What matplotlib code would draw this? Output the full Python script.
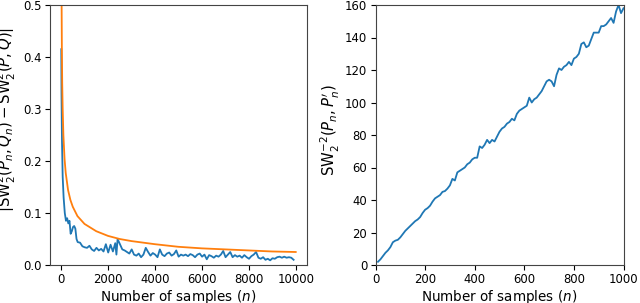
import matplotlib
matplotlib.use("Agg")
import matplotlib.pyplot as plt

# left panel: error of the empirical SW estimate vs number of samples
n_err = [10, 20, 40, 70, 110, 160, 210, 260, 310, 360, 410, 460, 510, 560, 610, 660,
         710, 810, 910, 1010, 1110, 1210, 1310, 1410, 1510, 1610, 1710, 1810, 1910,
         2010, 2110, 2210, 2310, 2360, 2410, 2510, 2610, 2710, 2810, 2910, 3010,
         3110, 3210, 3310, 3410, 3510, 3610, 3710, 3810, 3910, 4010, 4110, 4210,
         4310, 4410, 4510, 4610, 4710, 4810, 4910, 5010, 5110, 5210, 5310, 5410,
         5510, 5610, 5710, 5810, 5910, 6010, 6110, 6210, 6310, 6410, 6510, 6610,
         6710, 6810, 6910, 7010, 7110, 7210, 7310, 7410, 7510, 7610, 7710, 7810,
         7910, 8010, 8110, 8210, 8310, 8410, 8510, 8610, 8710, 8810, 8910, 9010,
         9110, 9210, 9310, 9410, 9510, 9610, 9710, 9810, 9910]
err = [0.415, 0.33, 0.24, 0.17, 0.13, 0.10, 0.085, 0.09, 0.08, 0.085, 0.06, 0.065,
       0.073, 0.075, 0.07, 0.05, 0.044, 0.043, 0.036, 0.034, 0.033, 0.037, 0.030,
       0.027, 0.033, 0.028, 0.031, 0.026, 0.040, 0.024, 0.039, 0.026, 0.042, 0.020,
       0.050, 0.040, 0.030, 0.028, 0.025, 0.022, 0.030, 0.020, 0.018, 0.022, 0.015,
       0.020, 0.033, 0.025, 0.018, 0.023, 0.020, 0.015, 0.030, 0.020, 0.017, 0.022,
       0.024, 0.018, 0.021, 0.028, 0.016, 0.020, 0.018, 0.020, 0.017, 0.021, 0.019,
       0.015, 0.020, 0.022, 0.016, 0.020, 0.011, 0.019, 0.017, 0.014, 0.018, 0.016,
       0.020, 0.027, 0.015, 0.020, 0.025, 0.015, 0.019, 0.016, 0.018, 0.014, 0.019,
       0.015, 0.012, 0.017, 0.020, 0.025, 0.014, 0.012, 0.015, 0.010, 0.012, 0.009,
       0.013, 0.012, 0.015, 0.016, 0.014, 0.016, 0.014, 0.015, 0.014, 0.010]

# orange reference curve
n_ref = [25, 35, 50, 70, 100, 150, 200, 300, 400, 500, 700, 1000, 1500, 2000,
         2500, 3000, 4000, 5000, 6000, 7000, 8000, 9000, 10000]
ref = [0.5, 0.42, 0.35, 0.30, 0.25, 0.204, 0.177, 0.144, 0.125, 0.112, 0.094,
       0.079, 0.065, 0.056, 0.050, 0.046, 0.040, 0.035, 0.032, 0.030, 0.028,
       0.026, 0.025]

# right panel: inverse squared SW between two empirical measures (n = 10..1000)
n_sw = list(range(10, 1001, 10))
sw_inv = [2, 3.5, 5.5, 7.5, 9, 11, 14, 15, 15.5, 17,
          19, 21, 22.5, 24, 25.5, 27, 28, 29.5, 32, 34,
          35, 36.5, 39, 41, 42, 43, 45, 45.5, 47, 49,
          53, 52, 57, 58, 59, 60, 62, 63, 65, 66,
          66, 73, 72, 74, 77, 75, 77, 76, 79, 82,
          84, 85, 87, 88, 90, 89, 93, 95, 96, 97,
          98, 103, 100, 102, 103, 105, 107, 110, 113, 114,
          113, 110, 117, 121, 120, 122, 123, 125, 123, 127,
          128, 130, 136, 137, 134, 135, 139, 143, 143, 143,
          147, 147, 148, 150, 152, 149, 156, 160, 155, 158]

BLUE = "#1f77b4"
ORANGE = "#ff7f0e"
FS_TICK = 8.4
FS_LABEL = 9.75
FS_YLABEL = 10.7

fig = plt.figure(figsize=(6.4, 3.03), dpi=100)
ax1 = fig.add_axes([50 / 640, 38 / 303, 257 / 640, 260 / 303])
ax2 = fig.add_axes([375.5 / 640, 38 / 303, 248 / 640, 260 / 303])

ax1.plot(n_err, err, color=BLUE, linewidth=1.3)
ax1.plot(n_ref, ref, color=ORANGE, linewidth=1.3)
ax1.set_ylim(0, 0.5)
ax1.set_xlim(-470, 10480)
ax1.set_xticks([0, 2000, 4000, 6000, 8000, 10000])
ax1.set_yticks([0.0, 0.1, 0.2, 0.3, 0.4, 0.5])
ax1.set_xlabel("Number of samples ($n$)", fontsize=FS_LABEL, labelpad=1)
ax1.set_ylabel(r"$|\mathrm{SW}_2^2(P_n, Q_n) - \mathrm{SW}_2^2(P, Q)|$",
               fontsize=FS_YLABEL)
ax1.yaxis.set_label_coords(-0.125, 0.56)

ax2.plot(n_sw, sw_inv, color=BLUE, linewidth=1.3)
ax2.set_xlim(0, 1000)
ax2.set_ylim(0, 160)
ax2.set_xticks([0, 200, 400, 600, 800, 1000])
ax2.set_yticks(range(0, 161, 20))
ax2.set_xlabel("Number of samples ($n$)", fontsize=FS_LABEL, labelpad=1)
ax2.set_ylabel(r"$\mathrm{SW}_2^{-2}(P_n, P_n^{\prime})$", fontsize=FS_YLABEL)
ax2.yaxis.set_label_coords(-0.135, 0.52)

for ax in (ax1, ax2):
    ax.tick_params(labelsize=FS_TICK, pad=2.5)
    for sp in ax.spines.values():
        sp.set_color("#444444")

fig.savefig("out.png", dpi=100)
